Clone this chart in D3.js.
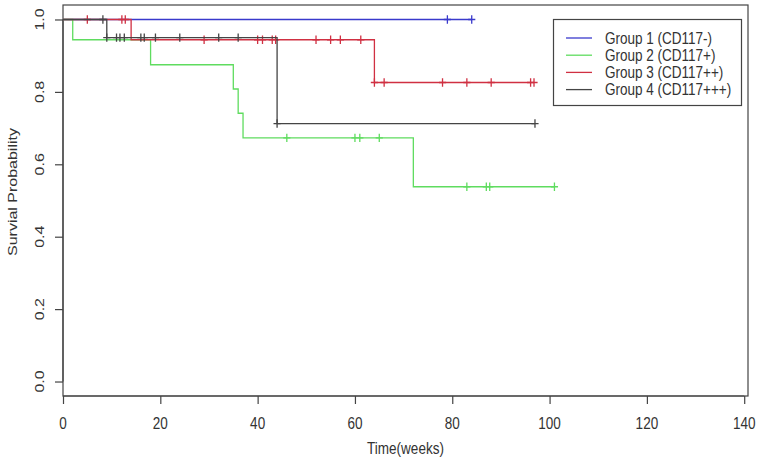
<!DOCTYPE html>
<html><head><meta charset="utf-8">
<script src="https://cdn.jsdelivr.net/npm/d3@7"></script>
<style>
body{margin:0;background:#fff}
text{font-family:"Liberation Sans",Arial,sans-serif;fill:#333;font-size:16px}
</style>
</head><body>
<svg id="c" width="759" height="465"></svg>
<script>
// ---- data ----
const groupNames = ["Group 1 (CD117-)", "Group 2 (CD117+)", "Group 3 (CD117++)", "Group 4 (CD117+++)"];
const groupColors = ["#3a3acc", "#5fdc5f", "#d03042", "#454545"];
const xTicks = [0, 20, 40, 60, 80, 100, 120, 140];
const yTicks = [0, 0.2, 0.4, 0.6, 0.8, 1.0];
const yTickLabels = ["0.0", "0.2", "0.4", "0.6", "0.8", "1.0"];

// group 1 (blue)
const g1EventTimes = [];
const g1Surv = [];
const g1Censor = [79, 84];
const g1End = 84;
// group 2 (green)
const g2EventTimes = [2, 18, 35, 36, 37, 72];
const g2Surv = [0.944, 0.875, 0.808, 0.741, 0.673, 0.538];
const g2Censor = [46, 60, 61, 65, 83, 87, 87.7, 101];
const g2End = 101;
// group 3 (red)
const g3EventTimes = [14, 64];
const g3Surv = [0.944, 0.826];
const g3Censor = [5, 12.1, 12.8, 29, 40, 41, 43, 43.7, 52, 55, 57, 61.2, 64, 66, 78, 83, 88, 96.1, 96.8];
const g3End = 96.8;
// group 4 (black)
const g4EventTimes = [9, 44];
const g4Surv = [0.95, 0.7125];
const g4Censor = [8.2, 9, 11, 11.7, 12.6, 16, 16.7, 19, 24, 32, 36, 44, 97];
const g4End = 97;

const series = [
  {ev: g1EventTimes, s: g1Surv, c: g1Censor, end: g1End},
  {ev: g2EventTimes, s: g2Surv, c: g2Censor, end: g2End},
  {ev: g3EventTimes, s: g3Surv, c: g3Censor, end: g3End},
  {ev: g4EventTimes, s: g4Surv, c: g4Censor, end: g4End}
];

// ---- layout ----
const svg = d3.select("#c");
const x = d3.scaleLinear().domain([0, 140.78]).range([63, 748]);
const y = d3.scaleLinear().domain([-0.04, 1.04]).range([396, 5]);
const SX = 0.845; // horizontal glyph compression of the reference
const ink = "#444";

function txt(px, py, str, anchor, rot) {
  svg.append("text")
    .attr("transform", `translate(${px},${py}) scale(${SX},1)` + (rot ? " rotate(-90)" : ""))
    .attr("text-anchor", anchor)
    .text(str);
}

// plot box
svg.append("rect").attr("x", x(0)).attr("y", y(1.04))
  .attr("width", x(140.78) - x(0)).attr("height", y(-0.04) - y(1.04))
  .attr("fill", "none").attr("stroke", ink).attr("stroke-width", 1.2);

// axes (ticks via d3 axis)
const xAxis = svg.append("g").attr("transform", `translate(0,${y(-0.04)})`)
  .call(d3.axisBottom(x).tickValues(xTicks).tickSize(8).tickFormat(""));
const yAxis = svg.append("g").attr("transform", `translate(${x(0)},0)`)
  .call(d3.axisLeft(y).tickValues(yTicks).tickSize(8).tickFormat(""));
[xAxis, yAxis].forEach(a => {
  a.select(".domain").attr("stroke", ink).attr("stroke-width", 1.2);
  a.selectAll(".tick line").attr("stroke", ink).attr("stroke-width", 1.2);
});
xAxis.select(".domain").attr("d", `M${x(0)},0H${x(140)}`);
yAxis.select(".domain").attr("d", `M0,${y(0)}V${y(1)}`);

xTicks.forEach(t => txt(x(t), 428.5, String(t), "middle", false));
yTicks.forEach((t, i) => txt(44, y(t), yTickLabels[i], "middle", true));

txt((x(0) + x(140.78)) / 2, 453.5, "Time(weeks)", "middle", false);
txt(17, 192, "Survial Probability", "middle", true);

// curves
function survAt(sr, t) {
  let s = 1;
  sr.ev.forEach((e, i) => { if (e <= t) s = sr.s[i]; });
  return s;
}
const line = d3.line().x(d => x(d[0])).y(d => y(d[1]));
series.forEach((sr, k) => {
  const pts = [[0, 1]];
  let s = 1;
  sr.ev.forEach((t, i) => { pts.push([t, s]); s = sr.s[i]; pts.push([t, s]); });
  pts.push([sr.end, s]);
  svg.append("path").attr("d", line(pts)).attr("fill", "none")
    .attr("stroke", groupColors[k]).attr("stroke-width", 1.3);
  const marks = sr.c.map(t => {
    const cx = x(t), cy = y(survAt(sr, t));
    return `M${cx - 3.6},${cy}H${cx + 3.6}M${cx},${cy - 4.2}V${cy + 4.2}`;
  }).join("");
  svg.append("path").attr("d", marks).attr("fill", "none")
    .attr("stroke", groupColors[k]).attr("stroke-width", 1.3);
});

// legend
svg.append("rect").attr("x", 553.5).attr("y", 19.5).attr("width", 188).attr("height", 86)
  .attr("fill", "#fff").attr("stroke", ink).attr("stroke-width", 1.2);
groupNames.forEach((nm, i) => {
  const ly = 38 + i * 17.2;
  svg.append("line").attr("x1", 566).attr("x2", 592).attr("y1", ly).attr("y2", ly)
    .attr("stroke", groupColors[i]).attr("stroke-width", 1.3);
  txt(605, ly + 5.7, nm, "start", false);
});
</script>
</body></html>
